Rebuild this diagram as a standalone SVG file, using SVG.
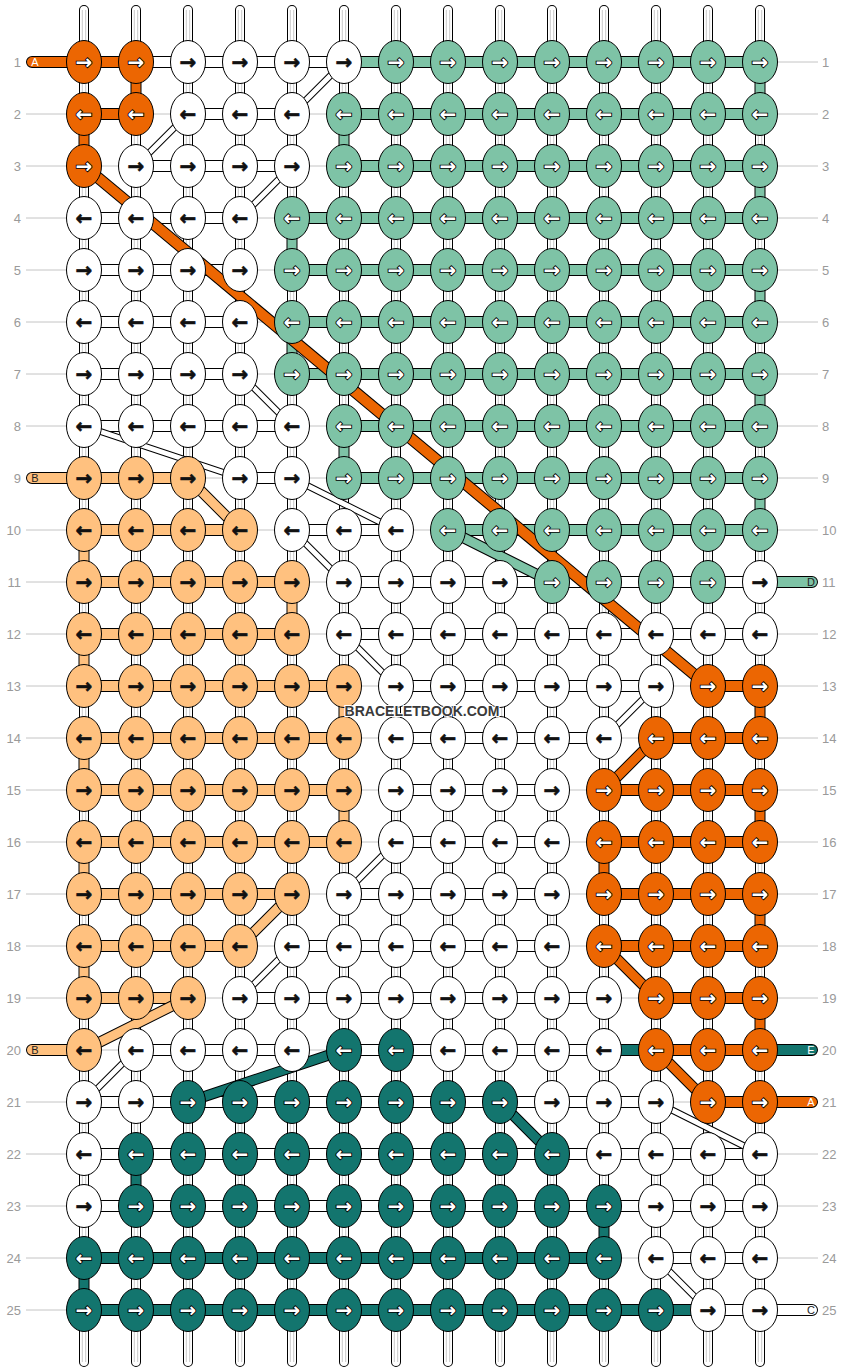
<svg xmlns="http://www.w3.org/2000/svg" xmlns:xlink="http://www.w3.org/1999/xlink" width="844" height="1372" viewBox="0 0 844 1372">
<style>
.num{font-family:"Liberation Sans",Arial,sans-serif;font-size:13px;fill:#9a9a9a}
.lab{font-family:"Liberation Sans",Arial,sans-serif;font-size:11px;text-anchor:middle}
#knots ellipse{rx:17.5px;ry:21.5px;stroke:#000;stroke-width:1}
#knots text{font-family:"DejaVu Sans",sans-serif;font-weight:bold;font-size:20px;text-anchor:middle;dominant-baseline:central}
.w ellipse{fill:#fff}.w text{fill:#111;stroke:#111;stroke-width:0.6px}
.l ellipse{fill:#FFC17F}.l text{fill:#111;stroke:#111;stroke-width:0.6px}
.o ellipse{fill:#EC6602}.g ellipse{fill:#7EC3A6}.t ellipse{fill:#13756E}
.o text,.g text,.t text{fill:#fff;stroke:#000;stroke-width:1.8px;paint-order:stroke}
.ol{fill:none;stroke:#000}
.fw{fill:none;stroke:#fff}.fo{fill:none;stroke:#EC6602}.fl{fill:none;stroke:#FFC17F}.fg{fill:none;stroke:#7EC3A6}.ft{fill:none;stroke:#13756E}
.bar{stroke-width:12px}.barf{stroke-width:10px}
.pill{stroke-linecap:round}
.vt{stroke-width:11px}.vtf{stroke-width:9px}
.dw{stroke-width:7px}.dwf{stroke-width:5px}
.dc{stroke-width:11px}.dcf{stroke-width:9px}
</style>
<defs>
<path id="vs" d="M84,10V1362M136,10V1362M188,10V1362M240,10V1362M292,10V1362M344,10V1362M396,10V1362M448,10V1362M500,10V1362M552,10V1362M604,10V1362M656,10V1362M708,10V1362M760,10V1362"/>
</defs>
<rect width="844" height="1372" fill="#fff"/>
<g id="guides">
<path d="M26,62H818M26,114H818M26,166H818M26,218H818M26,270H818M26,322H818M26,374H818M26,426H818M26,478H818M26,530H818M26,582H818M26,634H818M26,686H818M26,738H818M26,790H818M26,842H818M26,894H818M26,946H818M26,998H818M26,1050H818M26,1102H818M26,1154H818M26,1206H818M26,1258H818M26,1310H818" stroke="#c4c4c4" stroke-width="1" fill="none"/>
<g class="num" text-anchor="end">
<text x="21" y="66.5">1</text><text x="21" y="118.5">2</text><text x="21" y="170.5">3</text><text x="21" y="222.5">4</text><text x="21" y="274.5">5</text><text x="21" y="326.5">6</text><text x="21" y="378.5">7</text><text x="21" y="430.5">8</text><text x="21" y="482.5">9</text><text x="21" y="534.5">10</text><text x="21" y="586.5">11</text><text x="21" y="638.5">12</text><text x="21" y="690.5">13</text><text x="21" y="742.5">14</text><text x="21" y="794.5">15</text><text x="21" y="846.5">16</text><text x="21" y="898.5">17</text><text x="21" y="950.5">18</text><text x="21" y="1002.5">19</text><text x="21" y="1054.5">20</text><text x="21" y="1106.5">21</text><text x="21" y="1158.5">22</text><text x="21" y="1210.5">23</text><text x="21" y="1262.5">24</text><text x="21" y="1314.5">25</text>
</g>
<g class="num">
<text x="822" y="66.5">1</text><text x="822" y="118.5">2</text><text x="822" y="170.5">3</text><text x="822" y="222.5">4</text><text x="822" y="274.5">5</text><text x="822" y="326.5">6</text><text x="822" y="378.5">7</text><text x="822" y="430.5">8</text><text x="822" y="482.5">9</text><text x="822" y="534.5">10</text><text x="822" y="586.5">11</text><text x="822" y="638.5">12</text><text x="822" y="690.5">13</text><text x="822" y="742.5">14</text><text x="822" y="794.5">15</text><text x="822" y="846.5">16</text><text x="822" y="898.5">17</text><text x="822" y="950.5">18</text><text x="822" y="1002.5">19</text><text x="822" y="1054.5">20</text><text x="822" y="1106.5">21</text><text x="822" y="1158.5">22</text><text x="822" y="1210.5">23</text><text x="822" y="1262.5">24</text><text x="822" y="1314.5">25</text>
</g>
</g>
<g id="connectors">
<use xlink:href="#vs" href="#vs" fill="none" stroke="#000" stroke-width="10" stroke-linecap="round"/>
<use xlink:href="#vs" href="#vs" fill="none" stroke="#fff" stroke-width="8" stroke-linecap="round"/>
<use xlink:href="#vs" href="#vs" fill="none" stroke="#c8c8c8" stroke-width="1" transform="translate(-1.7 0)"/>
<use xlink:href="#vs" href="#vs" fill="none" stroke="#c8c8c8" stroke-width="1" transform="translate(1.7 0)"/>
<g id="bars">
<path class="ol bar" d="M136,62H344M188,114H292M136,166H292M84,218H240M84,270H240M84,322H240M84,374H240M84,426H292M240,478H292M292,530H396M344,582H760M344,634H760M396,686H656M396,738H604M396,790H552M396,842H552M344,894H552M292,946H552M240,998H604M136,1050H292M344,1050H604M84,1102H656M84,1154H760M84,1206H760M656,1258H760M708,1310H760M84,62H136M84,114H136M708,686H760M656,738H760M604,790H760M604,842H760M604,894H760M604,946H760M656,998H760M656,1050H760M708,1102H760M84,478H188M84,530H240M84,582H292M84,634H292M84,686H344M84,738H344M84,790H344M84,842H344M84,894H292M84,946H240M84,998H188M344,62H760M344,114H760M344,166H760M292,218H760M292,270H760M292,322H760M292,374H760M344,426H760M344,478H760M448,530H760M604,1050H656M84,1258H604M84,1310H708"/>
<path class="ol bar pill" d="M32,62H84M760,1102H812M32,478H84M32,1050H84M760,582H812M760,1050H812M760,1310H812"/>
<path class="fw barf" d="M136,62H344M188,114H292M136,166H292M84,218H240M84,270H240M84,322H240M84,374H240M84,426H292M240,478H292M292,530H396M344,582H760M344,634H760M396,686H656M396,738H604M396,790H552M396,842H552M344,894H552M292,946H552M240,998H604M136,1050H292M344,1050H604M84,1102H656M84,1154H760M84,1206H760M656,1258H760M708,1310H760"/>
<path class="fo barf" d="M84,62H136M84,114H136M708,686H760M656,738H760M604,790H760M604,842H760M604,894H760M604,946H760M656,998H760M656,1050H760M708,1102H760"/>
<path class="fl barf" d="M84,478H188M84,530H240M84,582H292M84,634H292M84,686H344M84,738H344M84,790H344M84,842H344M84,894H292M84,946H240M84,998H188"/>
<path class="fg barf" d="M344,62H760M344,114H760M344,166H760M292,218H760M292,270H760M292,322H760M292,374H760M344,426H760M344,478H760M448,530H760"/>
<path class="ft barf" d="M604,1050H656M84,1258H604M84,1310H708"/>
<path class="fo barf pill" d="M32,62H84M760,1102H812"/>
<path class="fl barf pill" d="M32,478H84M32,1050H84"/>
<path class="fg barf pill" d="M760,582H812"/>
<path class="ft barf pill" d="M760,1050H812"/>
<path class="fw barf pill" d="M760,1310H812"/>
</g>
<g id="turns">
<path class="ol vt" d="M136,62V114M84,114V166M760,686V738M760,790V842M604,842V894M760,894V946M760,998V1050M760,62V114M344,114V166M760,166V218M292,218V270M760,270V322M292,322V374M760,374V426M344,426V478M760,478V530M84,530V582M292,582V634M84,634V686M344,686V738M84,738V790M344,790V842M84,842V894M84,946V998M136,1154V1206M604,1206V1258M84,1258V1310"/>
<path class="fo vtf" d="M136,62V114M84,114V166M760,686V738M760,790V842M604,842V894M760,894V946M760,998V1050"/>
<path class="fg vtf" d="M760,62V114M344,114V166M760,166V218M292,218V270M760,270V322M292,322V374M760,374V426M344,426V478M760,478V530"/>
<path class="fl vtf" d="M84,530V582M292,582V634M84,634V686M344,686V738M84,738V790M344,790V842M84,842V894M84,946V998"/>
<path class="ft vtf" d="M136,1154V1206M604,1206V1258M84,1258V1310"/>
</g>
<g id="diagonals">
<path class="ol dw" d="M344,62L292,114M188,114L136,166M292,166L240,218M240,374L292,426M84,426L240,478M292,478L396,530M292,530L344,582M344,634L396,686M656,686L604,738M396,842L344,894M292,946L240,998M136,1050L84,1102M656,1102L760,1154M656,1258L708,1310"/>
<path class="fw dwf" d="M344,62L292,114M188,114L136,166M292,166L240,218M240,374L292,426M84,426L240,478M292,478L396,530M292,530L344,582M344,634L396,686M656,686L604,738M396,842L344,894M292,946L240,998M136,1050L84,1102M656,1102L760,1154M656,1258L708,1310"/>
<path class="ol dc" d="M188,478L240,530M292,894L240,946M188,998L84,1050M448,530L552,582M344,1050L188,1102M500,1102L552,1154M656,738L604,790M604,946L656,998M656,1050L708,1102"/>
<path class="ol" stroke-width="12" d="M84,166L708,686"/>
<path class="fl dcf" d="M188,478L240,530M292,894L240,946M188,998L84,1050"/>
<path class="fg dcf" d="M448,530L552,582"/>
<path class="ft dcf" d="M344,1050L188,1102M500,1102L552,1154"/>
<path class="fo dcf" d="M656,738L604,790M604,946L656,998M656,1050L708,1102"/>
<path class="fo" stroke-width="10" d="M84,166L708,686"/>
</g>
<g id="endlabels" class="lab">
<text x="35" y="66" fill="#fff">A</text>
<text x="35" y="482" fill="#222">B</text>
<text x="35" y="1054" fill="#222">B</text>
<text x="811" y="586" fill="#222">D</text>
<text x="811" y="1054" fill="#fff">E</text>
<text x="811" y="1106" fill="#fff">A</text>
<text x="811" y="1314" fill="#222">C</text>
</g>
</g>
<g id="knots">
<g id="row1" transform="translate(0,62)">
<g id="k1-1" class="o"><ellipse cx="84"/><text x="84">→</text></g>
<g id="k1-2" class="o"><ellipse cx="136"/><text x="136">→</text></g>
<g id="k1-3" class="w"><ellipse cx="188"/><text x="188">→</text></g>
<g id="k1-4" class="w"><ellipse cx="240"/><text x="240">→</text></g>
<g id="k1-5" class="w"><ellipse cx="292"/><text x="292">→</text></g>
<g id="k1-6" class="w"><ellipse cx="344"/><text x="344">→</text></g>
<g id="k1-7" class="g"><ellipse cx="396"/><text x="396">→</text></g>
<g id="k1-8" class="g"><ellipse cx="448"/><text x="448">→</text></g>
<g id="k1-9" class="g"><ellipse cx="500"/><text x="500">→</text></g>
<g id="k1-10" class="g"><ellipse cx="552"/><text x="552">→</text></g>
<g id="k1-11" class="g"><ellipse cx="604"/><text x="604">→</text></g>
<g id="k1-12" class="g"><ellipse cx="656"/><text x="656">→</text></g>
<g id="k1-13" class="g"><ellipse cx="708"/><text x="708">→</text></g>
<g id="k1-14" class="g"><ellipse cx="760"/><text x="760">→</text></g>
</g>
<g id="row2" transform="translate(0,114)">
<g id="k2-1" class="o"><ellipse cx="84"/><text x="84">←</text></g>
<g id="k2-2" class="o"><ellipse cx="136"/><text x="136">←</text></g>
<g id="k2-3" class="w"><ellipse cx="188"/><text x="188">←</text></g>
<g id="k2-4" class="w"><ellipse cx="240"/><text x="240">←</text></g>
<g id="k2-5" class="w"><ellipse cx="292"/><text x="292">←</text></g>
<g id="k2-6" class="g"><ellipse cx="344"/><text x="344">←</text></g>
<g id="k2-7" class="g"><ellipse cx="396"/><text x="396">←</text></g>
<g id="k2-8" class="g"><ellipse cx="448"/><text x="448">←</text></g>
<g id="k2-9" class="g"><ellipse cx="500"/><text x="500">←</text></g>
<g id="k2-10" class="g"><ellipse cx="552"/><text x="552">←</text></g>
<g id="k2-11" class="g"><ellipse cx="604"/><text x="604">←</text></g>
<g id="k2-12" class="g"><ellipse cx="656"/><text x="656">←</text></g>
<g id="k2-13" class="g"><ellipse cx="708"/><text x="708">←</text></g>
<g id="k2-14" class="g"><ellipse cx="760"/><text x="760">←</text></g>
</g>
<g id="row3" transform="translate(0,166)">
<g id="k3-1" class="o"><ellipse cx="84"/><text x="84">→</text></g>
<g id="k3-2" class="w"><ellipse cx="136"/><text x="136">→</text></g>
<g id="k3-3" class="w"><ellipse cx="188"/><text x="188">→</text></g>
<g id="k3-4" class="w"><ellipse cx="240"/><text x="240">→</text></g>
<g id="k3-5" class="w"><ellipse cx="292"/><text x="292">→</text></g>
<g id="k3-6" class="g"><ellipse cx="344"/><text x="344">→</text></g>
<g id="k3-7" class="g"><ellipse cx="396"/><text x="396">→</text></g>
<g id="k3-8" class="g"><ellipse cx="448"/><text x="448">→</text></g>
<g id="k3-9" class="g"><ellipse cx="500"/><text x="500">→</text></g>
<g id="k3-10" class="g"><ellipse cx="552"/><text x="552">→</text></g>
<g id="k3-11" class="g"><ellipse cx="604"/><text x="604">→</text></g>
<g id="k3-12" class="g"><ellipse cx="656"/><text x="656">→</text></g>
<g id="k3-13" class="g"><ellipse cx="708"/><text x="708">→</text></g>
<g id="k3-14" class="g"><ellipse cx="760"/><text x="760">→</text></g>
</g>
<g id="row4" transform="translate(0,218)">
<g id="k4-1" class="w"><ellipse cx="84"/><text x="84">←</text></g>
<g id="k4-2" class="w"><ellipse cx="136"/><text x="136">←</text></g>
<g id="k4-3" class="w"><ellipse cx="188"/><text x="188">←</text></g>
<g id="k4-4" class="w"><ellipse cx="240"/><text x="240">←</text></g>
<g id="k4-5" class="g"><ellipse cx="292"/><text x="292">←</text></g>
<g id="k4-6" class="g"><ellipse cx="344"/><text x="344">←</text></g>
<g id="k4-7" class="g"><ellipse cx="396"/><text x="396">←</text></g>
<g id="k4-8" class="g"><ellipse cx="448"/><text x="448">←</text></g>
<g id="k4-9" class="g"><ellipse cx="500"/><text x="500">←</text></g>
<g id="k4-10" class="g"><ellipse cx="552"/><text x="552">←</text></g>
<g id="k4-11" class="g"><ellipse cx="604"/><text x="604">←</text></g>
<g id="k4-12" class="g"><ellipse cx="656"/><text x="656">←</text></g>
<g id="k4-13" class="g"><ellipse cx="708"/><text x="708">←</text></g>
<g id="k4-14" class="g"><ellipse cx="760"/><text x="760">←</text></g>
</g>
<g id="row5" transform="translate(0,270)">
<g id="k5-1" class="w"><ellipse cx="84"/><text x="84">→</text></g>
<g id="k5-2" class="w"><ellipse cx="136"/><text x="136">→</text></g>
<g id="k5-3" class="w"><ellipse cx="188"/><text x="188">→</text></g>
<g id="k5-4" class="w"><ellipse cx="240"/><text x="240">→</text></g>
<g id="k5-5" class="g"><ellipse cx="292"/><text x="292">→</text></g>
<g id="k5-6" class="g"><ellipse cx="344"/><text x="344">→</text></g>
<g id="k5-7" class="g"><ellipse cx="396"/><text x="396">→</text></g>
<g id="k5-8" class="g"><ellipse cx="448"/><text x="448">→</text></g>
<g id="k5-9" class="g"><ellipse cx="500"/><text x="500">→</text></g>
<g id="k5-10" class="g"><ellipse cx="552"/><text x="552">→</text></g>
<g id="k5-11" class="g"><ellipse cx="604"/><text x="604">→</text></g>
<g id="k5-12" class="g"><ellipse cx="656"/><text x="656">→</text></g>
<g id="k5-13" class="g"><ellipse cx="708"/><text x="708">→</text></g>
<g id="k5-14" class="g"><ellipse cx="760"/><text x="760">→</text></g>
</g>
<g id="row6" transform="translate(0,322)">
<g id="k6-1" class="w"><ellipse cx="84"/><text x="84">←</text></g>
<g id="k6-2" class="w"><ellipse cx="136"/><text x="136">←</text></g>
<g id="k6-3" class="w"><ellipse cx="188"/><text x="188">←</text></g>
<g id="k6-4" class="w"><ellipse cx="240"/><text x="240">←</text></g>
<g id="k6-5" class="g"><ellipse cx="292"/><text x="292">←</text></g>
<g id="k6-6" class="g"><ellipse cx="344"/><text x="344">←</text></g>
<g id="k6-7" class="g"><ellipse cx="396"/><text x="396">←</text></g>
<g id="k6-8" class="g"><ellipse cx="448"/><text x="448">←</text></g>
<g id="k6-9" class="g"><ellipse cx="500"/><text x="500">←</text></g>
<g id="k6-10" class="g"><ellipse cx="552"/><text x="552">←</text></g>
<g id="k6-11" class="g"><ellipse cx="604"/><text x="604">←</text></g>
<g id="k6-12" class="g"><ellipse cx="656"/><text x="656">←</text></g>
<g id="k6-13" class="g"><ellipse cx="708"/><text x="708">←</text></g>
<g id="k6-14" class="g"><ellipse cx="760"/><text x="760">←</text></g>
</g>
<g id="row7" transform="translate(0,374)">
<g id="k7-1" class="w"><ellipse cx="84"/><text x="84">→</text></g>
<g id="k7-2" class="w"><ellipse cx="136"/><text x="136">→</text></g>
<g id="k7-3" class="w"><ellipse cx="188"/><text x="188">→</text></g>
<g id="k7-4" class="w"><ellipse cx="240"/><text x="240">→</text></g>
<g id="k7-5" class="g"><ellipse cx="292"/><text x="292">→</text></g>
<g id="k7-6" class="g"><ellipse cx="344"/><text x="344">→</text></g>
<g id="k7-7" class="g"><ellipse cx="396"/><text x="396">→</text></g>
<g id="k7-8" class="g"><ellipse cx="448"/><text x="448">→</text></g>
<g id="k7-9" class="g"><ellipse cx="500"/><text x="500">→</text></g>
<g id="k7-10" class="g"><ellipse cx="552"/><text x="552">→</text></g>
<g id="k7-11" class="g"><ellipse cx="604"/><text x="604">→</text></g>
<g id="k7-12" class="g"><ellipse cx="656"/><text x="656">→</text></g>
<g id="k7-13" class="g"><ellipse cx="708"/><text x="708">→</text></g>
<g id="k7-14" class="g"><ellipse cx="760"/><text x="760">→</text></g>
</g>
<g id="row8" transform="translate(0,426)">
<g id="k8-1" class="w"><ellipse cx="84"/><text x="84">←</text></g>
<g id="k8-2" class="w"><ellipse cx="136"/><text x="136">←</text></g>
<g id="k8-3" class="w"><ellipse cx="188"/><text x="188">←</text></g>
<g id="k8-4" class="w"><ellipse cx="240"/><text x="240">←</text></g>
<g id="k8-5" class="w"><ellipse cx="292"/><text x="292">←</text></g>
<g id="k8-6" class="g"><ellipse cx="344"/><text x="344">←</text></g>
<g id="k8-7" class="g"><ellipse cx="396"/><text x="396">←</text></g>
<g id="k8-8" class="g"><ellipse cx="448"/><text x="448">←</text></g>
<g id="k8-9" class="g"><ellipse cx="500"/><text x="500">←</text></g>
<g id="k8-10" class="g"><ellipse cx="552"/><text x="552">←</text></g>
<g id="k8-11" class="g"><ellipse cx="604"/><text x="604">←</text></g>
<g id="k8-12" class="g"><ellipse cx="656"/><text x="656">←</text></g>
<g id="k8-13" class="g"><ellipse cx="708"/><text x="708">←</text></g>
<g id="k8-14" class="g"><ellipse cx="760"/><text x="760">←</text></g>
</g>
<g id="row9" transform="translate(0,478)">
<g id="k9-1" class="l"><ellipse cx="84"/><text x="84">→</text></g>
<g id="k9-2" class="l"><ellipse cx="136"/><text x="136">→</text></g>
<g id="k9-3" class="l"><ellipse cx="188"/><text x="188">→</text></g>
<g id="k9-4" class="w"><ellipse cx="240"/><text x="240">→</text></g>
<g id="k9-5" class="w"><ellipse cx="292"/><text x="292">→</text></g>
<g id="k9-6" class="g"><ellipse cx="344"/><text x="344">→</text></g>
<g id="k9-7" class="g"><ellipse cx="396"/><text x="396">→</text></g>
<g id="k9-8" class="g"><ellipse cx="448"/><text x="448">→</text></g>
<g id="k9-9" class="g"><ellipse cx="500"/><text x="500">→</text></g>
<g id="k9-10" class="g"><ellipse cx="552"/><text x="552">→</text></g>
<g id="k9-11" class="g"><ellipse cx="604"/><text x="604">→</text></g>
<g id="k9-12" class="g"><ellipse cx="656"/><text x="656">→</text></g>
<g id="k9-13" class="g"><ellipse cx="708"/><text x="708">→</text></g>
<g id="k9-14" class="g"><ellipse cx="760"/><text x="760">→</text></g>
</g>
<g id="row10" transform="translate(0,530)">
<g id="k10-1" class="l"><ellipse cx="84"/><text x="84">←</text></g>
<g id="k10-2" class="l"><ellipse cx="136"/><text x="136">←</text></g>
<g id="k10-3" class="l"><ellipse cx="188"/><text x="188">←</text></g>
<g id="k10-4" class="l"><ellipse cx="240"/><text x="240">←</text></g>
<g id="k10-5" class="w"><ellipse cx="292"/><text x="292">←</text></g>
<g id="k10-6" class="w"><ellipse cx="344"/><text x="344">←</text></g>
<g id="k10-7" class="w"><ellipse cx="396"/><text x="396">←</text></g>
<g id="k10-8" class="g"><ellipse cx="448"/><text x="448">←</text></g>
<g id="k10-9" class="g"><ellipse cx="500"/><text x="500">←</text></g>
<g id="k10-10" class="g"><ellipse cx="552"/><text x="552">←</text></g>
<g id="k10-11" class="g"><ellipse cx="604"/><text x="604">←</text></g>
<g id="k10-12" class="g"><ellipse cx="656"/><text x="656">←</text></g>
<g id="k10-13" class="g"><ellipse cx="708"/><text x="708">←</text></g>
<g id="k10-14" class="g"><ellipse cx="760"/><text x="760">←</text></g>
</g>
<g id="row11" transform="translate(0,582)">
<g id="k11-1" class="l"><ellipse cx="84"/><text x="84">→</text></g>
<g id="k11-2" class="l"><ellipse cx="136"/><text x="136">→</text></g>
<g id="k11-3" class="l"><ellipse cx="188"/><text x="188">→</text></g>
<g id="k11-4" class="l"><ellipse cx="240"/><text x="240">→</text></g>
<g id="k11-5" class="l"><ellipse cx="292"/><text x="292">→</text></g>
<g id="k11-6" class="w"><ellipse cx="344"/><text x="344">→</text></g>
<g id="k11-7" class="w"><ellipse cx="396"/><text x="396">→</text></g>
<g id="k11-8" class="w"><ellipse cx="448"/><text x="448">→</text></g>
<g id="k11-9" class="w"><ellipse cx="500"/><text x="500">→</text></g>
<g id="k11-10" class="g"><ellipse cx="552"/><text x="552">→</text></g>
<g id="k11-11" class="g"><ellipse cx="604"/><text x="604">→</text></g>
<g id="k11-12" class="g"><ellipse cx="656"/><text x="656">→</text></g>
<g id="k11-13" class="g"><ellipse cx="708"/><text x="708">→</text></g>
<g id="k11-14" class="w"><ellipse cx="760"/><text x="760">→</text></g>
</g>
<g id="row12" transform="translate(0,634)">
<g id="k12-1" class="l"><ellipse cx="84"/><text x="84">←</text></g>
<g id="k12-2" class="l"><ellipse cx="136"/><text x="136">←</text></g>
<g id="k12-3" class="l"><ellipse cx="188"/><text x="188">←</text></g>
<g id="k12-4" class="l"><ellipse cx="240"/><text x="240">←</text></g>
<g id="k12-5" class="l"><ellipse cx="292"/><text x="292">←</text></g>
<g id="k12-6" class="w"><ellipse cx="344"/><text x="344">←</text></g>
<g id="k12-7" class="w"><ellipse cx="396"/><text x="396">←</text></g>
<g id="k12-8" class="w"><ellipse cx="448"/><text x="448">←</text></g>
<g id="k12-9" class="w"><ellipse cx="500"/><text x="500">←</text></g>
<g id="k12-10" class="w"><ellipse cx="552"/><text x="552">←</text></g>
<g id="k12-11" class="w"><ellipse cx="604"/><text x="604">←</text></g>
<g id="k12-12" class="w"><ellipse cx="656"/><text x="656">←</text></g>
<g id="k12-13" class="w"><ellipse cx="708"/><text x="708">←</text></g>
<g id="k12-14" class="w"><ellipse cx="760"/><text x="760">←</text></g>
</g>
<g id="row13" transform="translate(0,686)">
<g id="k13-1" class="l"><ellipse cx="84"/><text x="84">→</text></g>
<g id="k13-2" class="l"><ellipse cx="136"/><text x="136">→</text></g>
<g id="k13-3" class="l"><ellipse cx="188"/><text x="188">→</text></g>
<g id="k13-4" class="l"><ellipse cx="240"/><text x="240">→</text></g>
<g id="k13-5" class="l"><ellipse cx="292"/><text x="292">→</text></g>
<g id="k13-6" class="l"><ellipse cx="344"/><text x="344">→</text></g>
<g id="k13-7" class="w"><ellipse cx="396"/><text x="396">→</text></g>
<g id="k13-8" class="w"><ellipse cx="448"/><text x="448">→</text></g>
<g id="k13-9" class="w"><ellipse cx="500"/><text x="500">→</text></g>
<g id="k13-10" class="w"><ellipse cx="552"/><text x="552">→</text></g>
<g id="k13-11" class="w"><ellipse cx="604"/><text x="604">→</text></g>
<g id="k13-12" class="w"><ellipse cx="656"/><text x="656">→</text></g>
<g id="k13-13" class="o"><ellipse cx="708"/><text x="708">→</text></g>
<g id="k13-14" class="o"><ellipse cx="760"/><text x="760">→</text></g>
</g>
<g id="row14" transform="translate(0,738)">
<g id="k14-1" class="l"><ellipse cx="84"/><text x="84">←</text></g>
<g id="k14-2" class="l"><ellipse cx="136"/><text x="136">←</text></g>
<g id="k14-3" class="l"><ellipse cx="188"/><text x="188">←</text></g>
<g id="k14-4" class="l"><ellipse cx="240"/><text x="240">←</text></g>
<g id="k14-5" class="l"><ellipse cx="292"/><text x="292">←</text></g>
<g id="k14-6" class="l"><ellipse cx="344"/><text x="344">←</text></g>
<g id="k14-7" class="w"><ellipse cx="396"/><text x="396">←</text></g>
<g id="k14-8" class="w"><ellipse cx="448"/><text x="448">←</text></g>
<g id="k14-9" class="w"><ellipse cx="500"/><text x="500">←</text></g>
<g id="k14-10" class="w"><ellipse cx="552"/><text x="552">←</text></g>
<g id="k14-11" class="w"><ellipse cx="604"/><text x="604">←</text></g>
<g id="k14-12" class="o"><ellipse cx="656"/><text x="656">←</text></g>
<g id="k14-13" class="o"><ellipse cx="708"/><text x="708">←</text></g>
<g id="k14-14" class="o"><ellipse cx="760"/><text x="760">←</text></g>
</g>
<g id="row15" transform="translate(0,790)">
<g id="k15-1" class="l"><ellipse cx="84"/><text x="84">→</text></g>
<g id="k15-2" class="l"><ellipse cx="136"/><text x="136">→</text></g>
<g id="k15-3" class="l"><ellipse cx="188"/><text x="188">→</text></g>
<g id="k15-4" class="l"><ellipse cx="240"/><text x="240">→</text></g>
<g id="k15-5" class="l"><ellipse cx="292"/><text x="292">→</text></g>
<g id="k15-6" class="l"><ellipse cx="344"/><text x="344">→</text></g>
<g id="k15-7" class="w"><ellipse cx="396"/><text x="396">→</text></g>
<g id="k15-8" class="w"><ellipse cx="448"/><text x="448">→</text></g>
<g id="k15-9" class="w"><ellipse cx="500"/><text x="500">→</text></g>
<g id="k15-10" class="w"><ellipse cx="552"/><text x="552">→</text></g>
<g id="k15-11" class="o"><ellipse cx="604"/><text x="604">→</text></g>
<g id="k15-12" class="o"><ellipse cx="656"/><text x="656">→</text></g>
<g id="k15-13" class="o"><ellipse cx="708"/><text x="708">→</text></g>
<g id="k15-14" class="o"><ellipse cx="760"/><text x="760">→</text></g>
</g>
<g id="row16" transform="translate(0,842)">
<g id="k16-1" class="l"><ellipse cx="84"/><text x="84">←</text></g>
<g id="k16-2" class="l"><ellipse cx="136"/><text x="136">←</text></g>
<g id="k16-3" class="l"><ellipse cx="188"/><text x="188">←</text></g>
<g id="k16-4" class="l"><ellipse cx="240"/><text x="240">←</text></g>
<g id="k16-5" class="l"><ellipse cx="292"/><text x="292">←</text></g>
<g id="k16-6" class="l"><ellipse cx="344"/><text x="344">←</text></g>
<g id="k16-7" class="w"><ellipse cx="396"/><text x="396">←</text></g>
<g id="k16-8" class="w"><ellipse cx="448"/><text x="448">←</text></g>
<g id="k16-9" class="w"><ellipse cx="500"/><text x="500">←</text></g>
<g id="k16-10" class="w"><ellipse cx="552"/><text x="552">←</text></g>
<g id="k16-11" class="o"><ellipse cx="604"/><text x="604">←</text></g>
<g id="k16-12" class="o"><ellipse cx="656"/><text x="656">←</text></g>
<g id="k16-13" class="o"><ellipse cx="708"/><text x="708">←</text></g>
<g id="k16-14" class="o"><ellipse cx="760"/><text x="760">←</text></g>
</g>
<g id="row17" transform="translate(0,894)">
<g id="k17-1" class="l"><ellipse cx="84"/><text x="84">→</text></g>
<g id="k17-2" class="l"><ellipse cx="136"/><text x="136">→</text></g>
<g id="k17-3" class="l"><ellipse cx="188"/><text x="188">→</text></g>
<g id="k17-4" class="l"><ellipse cx="240"/><text x="240">→</text></g>
<g id="k17-5" class="l"><ellipse cx="292"/><text x="292">→</text></g>
<g id="k17-6" class="w"><ellipse cx="344"/><text x="344">→</text></g>
<g id="k17-7" class="w"><ellipse cx="396"/><text x="396">→</text></g>
<g id="k17-8" class="w"><ellipse cx="448"/><text x="448">→</text></g>
<g id="k17-9" class="w"><ellipse cx="500"/><text x="500">→</text></g>
<g id="k17-10" class="w"><ellipse cx="552"/><text x="552">→</text></g>
<g id="k17-11" class="o"><ellipse cx="604"/><text x="604">→</text></g>
<g id="k17-12" class="o"><ellipse cx="656"/><text x="656">→</text></g>
<g id="k17-13" class="o"><ellipse cx="708"/><text x="708">→</text></g>
<g id="k17-14" class="o"><ellipse cx="760"/><text x="760">→</text></g>
</g>
<g id="row18" transform="translate(0,946)">
<g id="k18-1" class="l"><ellipse cx="84"/><text x="84">←</text></g>
<g id="k18-2" class="l"><ellipse cx="136"/><text x="136">←</text></g>
<g id="k18-3" class="l"><ellipse cx="188"/><text x="188">←</text></g>
<g id="k18-4" class="l"><ellipse cx="240"/><text x="240">←</text></g>
<g id="k18-5" class="w"><ellipse cx="292"/><text x="292">←</text></g>
<g id="k18-6" class="w"><ellipse cx="344"/><text x="344">←</text></g>
<g id="k18-7" class="w"><ellipse cx="396"/><text x="396">←</text></g>
<g id="k18-8" class="w"><ellipse cx="448"/><text x="448">←</text></g>
<g id="k18-9" class="w"><ellipse cx="500"/><text x="500">←</text></g>
<g id="k18-10" class="w"><ellipse cx="552"/><text x="552">←</text></g>
<g id="k18-11" class="o"><ellipse cx="604"/><text x="604">←</text></g>
<g id="k18-12" class="o"><ellipse cx="656"/><text x="656">←</text></g>
<g id="k18-13" class="o"><ellipse cx="708"/><text x="708">←</text></g>
<g id="k18-14" class="o"><ellipse cx="760"/><text x="760">←</text></g>
</g>
<g id="row19" transform="translate(0,998)">
<g id="k19-1" class="l"><ellipse cx="84"/><text x="84">→</text></g>
<g id="k19-2" class="l"><ellipse cx="136"/><text x="136">→</text></g>
<g id="k19-3" class="l"><ellipse cx="188"/><text x="188">→</text></g>
<g id="k19-4" class="w"><ellipse cx="240"/><text x="240">→</text></g>
<g id="k19-5" class="w"><ellipse cx="292"/><text x="292">→</text></g>
<g id="k19-6" class="w"><ellipse cx="344"/><text x="344">→</text></g>
<g id="k19-7" class="w"><ellipse cx="396"/><text x="396">→</text></g>
<g id="k19-8" class="w"><ellipse cx="448"/><text x="448">→</text></g>
<g id="k19-9" class="w"><ellipse cx="500"/><text x="500">→</text></g>
<g id="k19-10" class="w"><ellipse cx="552"/><text x="552">→</text></g>
<g id="k19-11" class="w"><ellipse cx="604"/><text x="604">→</text></g>
<g id="k19-12" class="o"><ellipse cx="656"/><text x="656">→</text></g>
<g id="k19-13" class="o"><ellipse cx="708"/><text x="708">→</text></g>
<g id="k19-14" class="o"><ellipse cx="760"/><text x="760">→</text></g>
</g>
<g id="row20" transform="translate(0,1050)">
<g id="k20-1" class="l"><ellipse cx="84"/><text x="84">←</text></g>
<g id="k20-2" class="w"><ellipse cx="136"/><text x="136">←</text></g>
<g id="k20-3" class="w"><ellipse cx="188"/><text x="188">←</text></g>
<g id="k20-4" class="w"><ellipse cx="240"/><text x="240">←</text></g>
<g id="k20-5" class="w"><ellipse cx="292"/><text x="292">←</text></g>
<g id="k20-6" class="t"><ellipse cx="344"/><text x="344">←</text></g>
<g id="k20-7" class="t"><ellipse cx="396"/><text x="396">←</text></g>
<g id="k20-8" class="w"><ellipse cx="448"/><text x="448">←</text></g>
<g id="k20-9" class="w"><ellipse cx="500"/><text x="500">←</text></g>
<g id="k20-10" class="w"><ellipse cx="552"/><text x="552">←</text></g>
<g id="k20-11" class="w"><ellipse cx="604"/><text x="604">←</text></g>
<g id="k20-12" class="o"><ellipse cx="656"/><text x="656">←</text></g>
<g id="k20-13" class="o"><ellipse cx="708"/><text x="708">←</text></g>
<g id="k20-14" class="o"><ellipse cx="760"/><text x="760">←</text></g>
</g>
<g id="row21" transform="translate(0,1102)">
<g id="k21-1" class="w"><ellipse cx="84"/><text x="84">→</text></g>
<g id="k21-2" class="w"><ellipse cx="136"/><text x="136">→</text></g>
<g id="k21-3" class="t"><ellipse cx="188"/><text x="188">→</text></g>
<g id="k21-4" class="t"><ellipse cx="240"/><text x="240">→</text></g>
<g id="k21-5" class="t"><ellipse cx="292"/><text x="292">→</text></g>
<g id="k21-6" class="t"><ellipse cx="344"/><text x="344">→</text></g>
<g id="k21-7" class="t"><ellipse cx="396"/><text x="396">→</text></g>
<g id="k21-8" class="t"><ellipse cx="448"/><text x="448">→</text></g>
<g id="k21-9" class="t"><ellipse cx="500"/><text x="500">→</text></g>
<g id="k21-10" class="w"><ellipse cx="552"/><text x="552">→</text></g>
<g id="k21-11" class="w"><ellipse cx="604"/><text x="604">→</text></g>
<g id="k21-12" class="w"><ellipse cx="656"/><text x="656">→</text></g>
<g id="k21-13" class="o"><ellipse cx="708"/><text x="708">→</text></g>
<g id="k21-14" class="o"><ellipse cx="760"/><text x="760">→</text></g>
</g>
<g id="row22" transform="translate(0,1154)">
<g id="k22-1" class="w"><ellipse cx="84"/><text x="84">←</text></g>
<g id="k22-2" class="t"><ellipse cx="136"/><text x="136">←</text></g>
<g id="k22-3" class="t"><ellipse cx="188"/><text x="188">←</text></g>
<g id="k22-4" class="t"><ellipse cx="240"/><text x="240">←</text></g>
<g id="k22-5" class="t"><ellipse cx="292"/><text x="292">←</text></g>
<g id="k22-6" class="t"><ellipse cx="344"/><text x="344">←</text></g>
<g id="k22-7" class="t"><ellipse cx="396"/><text x="396">←</text></g>
<g id="k22-8" class="t"><ellipse cx="448"/><text x="448">←</text></g>
<g id="k22-9" class="t"><ellipse cx="500"/><text x="500">←</text></g>
<g id="k22-10" class="t"><ellipse cx="552"/><text x="552">←</text></g>
<g id="k22-11" class="w"><ellipse cx="604"/><text x="604">←</text></g>
<g id="k22-12" class="w"><ellipse cx="656"/><text x="656">←</text></g>
<g id="k22-13" class="w"><ellipse cx="708"/><text x="708">←</text></g>
<g id="k22-14" class="w"><ellipse cx="760"/><text x="760">←</text></g>
</g>
<g id="row23" transform="translate(0,1206)">
<g id="k23-1" class="w"><ellipse cx="84"/><text x="84">→</text></g>
<g id="k23-2" class="t"><ellipse cx="136"/><text x="136">→</text></g>
<g id="k23-3" class="t"><ellipse cx="188"/><text x="188">→</text></g>
<g id="k23-4" class="t"><ellipse cx="240"/><text x="240">→</text></g>
<g id="k23-5" class="t"><ellipse cx="292"/><text x="292">→</text></g>
<g id="k23-6" class="t"><ellipse cx="344"/><text x="344">→</text></g>
<g id="k23-7" class="t"><ellipse cx="396"/><text x="396">→</text></g>
<g id="k23-8" class="t"><ellipse cx="448"/><text x="448">→</text></g>
<g id="k23-9" class="t"><ellipse cx="500"/><text x="500">→</text></g>
<g id="k23-10" class="t"><ellipse cx="552"/><text x="552">→</text></g>
<g id="k23-11" class="t"><ellipse cx="604"/><text x="604">→</text></g>
<g id="k23-12" class="w"><ellipse cx="656"/><text x="656">→</text></g>
<g id="k23-13" class="w"><ellipse cx="708"/><text x="708">→</text></g>
<g id="k23-14" class="w"><ellipse cx="760"/><text x="760">→</text></g>
</g>
<g id="row24" transform="translate(0,1258)">
<g id="k24-1" class="t"><ellipse cx="84"/><text x="84">←</text></g>
<g id="k24-2" class="t"><ellipse cx="136"/><text x="136">←</text></g>
<g id="k24-3" class="t"><ellipse cx="188"/><text x="188">←</text></g>
<g id="k24-4" class="t"><ellipse cx="240"/><text x="240">←</text></g>
<g id="k24-5" class="t"><ellipse cx="292"/><text x="292">←</text></g>
<g id="k24-6" class="t"><ellipse cx="344"/><text x="344">←</text></g>
<g id="k24-7" class="t"><ellipse cx="396"/><text x="396">←</text></g>
<g id="k24-8" class="t"><ellipse cx="448"/><text x="448">←</text></g>
<g id="k24-9" class="t"><ellipse cx="500"/><text x="500">←</text></g>
<g id="k24-10" class="t"><ellipse cx="552"/><text x="552">←</text></g>
<g id="k24-11" class="t"><ellipse cx="604"/><text x="604">←</text></g>
<g id="k24-12" class="w"><ellipse cx="656"/><text x="656">←</text></g>
<g id="k24-13" class="w"><ellipse cx="708"/><text x="708">←</text></g>
<g id="k24-14" class="w"><ellipse cx="760"/><text x="760">←</text></g>
</g>
<g id="row25" transform="translate(0,1310)">
<g id="k25-1" class="t"><ellipse cx="84"/><text x="84">→</text></g>
<g id="k25-2" class="t"><ellipse cx="136"/><text x="136">→</text></g>
<g id="k25-3" class="t"><ellipse cx="188"/><text x="188">→</text></g>
<g id="k25-4" class="t"><ellipse cx="240"/><text x="240">→</text></g>
<g id="k25-5" class="t"><ellipse cx="292"/><text x="292">→</text></g>
<g id="k25-6" class="t"><ellipse cx="344"/><text x="344">→</text></g>
<g id="k25-7" class="t"><ellipse cx="396"/><text x="396">→</text></g>
<g id="k25-8" class="t"><ellipse cx="448"/><text x="448">→</text></g>
<g id="k25-9" class="t"><ellipse cx="500"/><text x="500">→</text></g>
<g id="k25-10" class="t"><ellipse cx="552"/><text x="552">→</text></g>
<g id="k25-11" class="t"><ellipse cx="604"/><text x="604">→</text></g>
<g id="k25-12" class="t"><ellipse cx="656"/><text x="656">→</text></g>
<g id="k25-13" class="w"><ellipse cx="708"/><text x="708">→</text></g>
<g id="k25-14" class="w"><ellipse cx="760"/><text x="760">→</text></g>
</g>
</g>
<text id="watermark" x="422" y="716" text-anchor="middle" style="font-family:'Liberation Sans',Arial,sans-serif;font-weight:bold;font-size:14px;fill:#3a3a3a;stroke:#fff;stroke-width:2px;paint-order:stroke">BRACELETBOOK.COM</text>
</svg>
